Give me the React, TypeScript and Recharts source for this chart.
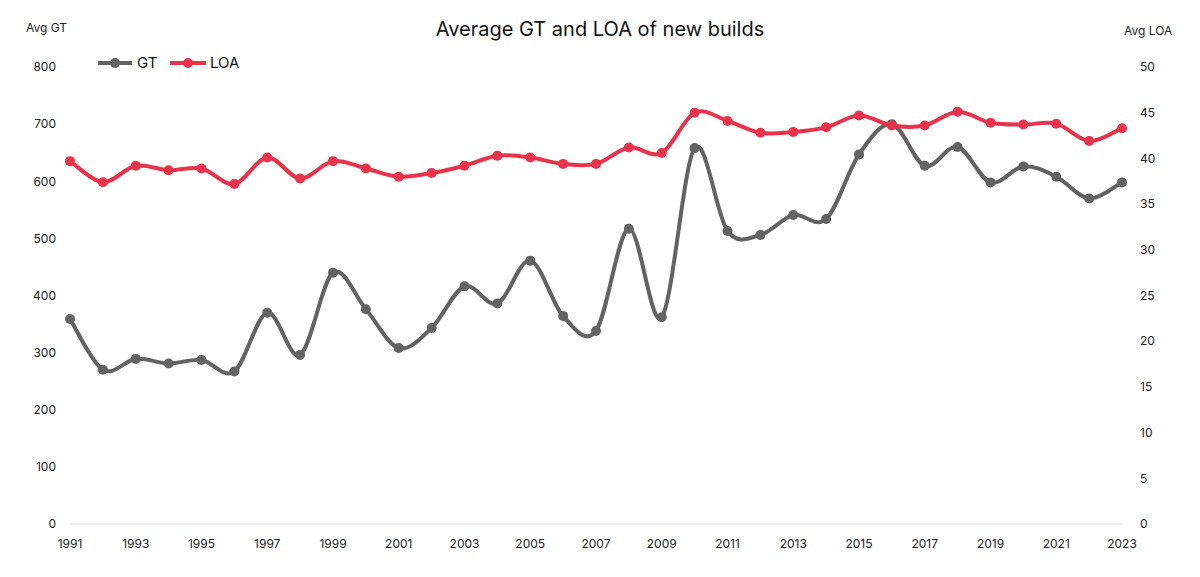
import React from 'react';
import { LineChart, Line, XAxis, YAxis } from 'recharts';

const years = [
  1991, 1992, 1993, 1994, 1995, 1996, 1997, 1998, 1999, 2000, 2001, 2002, 2003, 2004, 2005, 2006, 2007,
  2008, 2009, 2010, 2011, 2012, 2013, 2014, 2015, 2016, 2017, 2018, 2019, 2020, 2021, 2022, 2023,
];
const gtValues = [
  359, 270, 289, 281, 287, 267, 370, 296, 440, 376, 308, 343, 416, 386, 461, 364, 338,
  517, 362, 658, 513, 506, 541, 534, 647, 700, 627, 660, 598, 626, 608, 570, 598,
];
const loaValues = [
  39.7, 37.4, 39.2, 38.7, 38.9, 37.2, 40.1, 37.8, 39.7, 38.9, 38.0, 38.4, 39.2, 40.3, 40.1, 39.4, 39.4,
  41.2, 40.6, 45.0, 44.1, 42.8, 42.9, 43.4, 44.7, 43.6, 43.6, 45.1, 43.9, 43.7, 43.8, 41.9, 43.3,
];
const gtTicks = [0, 100, 200, 300, 400, 500, 600, 700, 800];
const loaTicks = [0, 5, 10, 15, 20, 25, 30, 35, 40, 45, 50];

const data = years.map((y, i) => ({ year: String(y), gt: gtValues[i], loa: loaValues[i] }));

const GRAY = '#636363';
const RED = '#e8334a';
const FONT = 'Inter, "Open Sans", sans-serif';

// Excel-like smoothed line (Catmull-Rom, uniform)
function smoothCurve(context: any) {
  let pts: number[][] = [];
  return {
    areaStart() {},
    areaEnd() {},
    lineStart() {
      pts = [];
    },
    point(x: number, y: number) {
      pts.push([+x, +y]);
    },
    lineEnd() {
      const n = pts.length;
      if (!n) return;
      context.moveTo(pts[0][0], pts[0][1]);
      for (let i = 0; i < n - 1; i++) {
        const p0 = pts[Math.max(i - 1, 0)];
        const p1 = pts[i];
        const p2 = pts[i + 1];
        const p3 = pts[Math.min(i + 2, n - 1)];
        const c1x = p1[0] + (p2[0] - p0[0]) / 6;
        const c1y = p1[1] + (p2[1] - p0[1]) / 6;
        const c2x = p2[0] - (p3[0] - p1[0]) / 6;
        const c2y = p2[1] - (p3[1] - p1[1]) / 6;
        context.bezierCurveTo(c1x, c1y, c2x, c2y, p2[0], p2[1]);
      }
    },
  };
}

const tickStyle = { fontSize: 12, fill: '#222', fontFamily: FONT };

export default function App() {
  return (
    <div style={{ position: 'absolute', left: 0, top: 0, width: 1200, height: 577, background: '#fff', fontFamily: FONT }}>
      <LineChart width={1200} height={577} data={data} margin={{ top: 67, right: 0, bottom: 23, left: 0 }}>
        <XAxis
          dataKey="year"
          interval={1}
          tickLine={false}
          axisLine={{ stroke: '#d9d9d9', strokeWidth: 1 }}
          tick={tickStyle}
          tickSize={6}
          tickMargin={9}
          height={30}
        />
        <YAxis
          yAxisId="left"
          domain={[0, 800]}
          ticks={gtTicks}
          axisLine={false}
          tickLine={false}
          tick={tickStyle}
          tickSize={6}
          tickMargin={8}
          width={70}
        />
        <YAxis
          yAxisId="right"
          orientation="right"
          domain={[0, 50]}
          ticks={loaTicks}
          axisLine={false}
          tickLine={false}
          tick={{ ...tickStyle, textAnchor: 'start' }}
          tickSize={6}
          tickMargin={12}
          width={78}
        />
        <Line
          yAxisId="left"
          dataKey="gt"
          type={smoothCurve as any}
          stroke={GRAY}
          strokeWidth={4}
          dot={{ r: 5, fill: GRAY, stroke: GRAY, strokeWidth: 0 }}
          activeDot={false}
          isAnimationActive={false}
        />
        <Line
          yAxisId="right"
          dataKey="loa"
          type={smoothCurve as any}
          stroke={RED}
          strokeWidth={4}
          dot={{ r: 5, fill: RED, stroke: RED, strokeWidth: 0 }}
          activeDot={false}
          isAnimationActive={false}
        />
      </LineChart>
      <div style={{ position: 'absolute', left: 0, top: 16, width: 1200, textAlign: 'center', fontSize: 20, color: '#111', lineHeight: '26px' }}>
        Average GT and LOA of new builds
      </div>
      <div style={{ position: 'absolute', left: 26, top: 20, fontSize: 12, color: '#222' }}>Avg GT</div>
      <div style={{ position: 'absolute', left: 1124, top: 23, fontSize: 12, color: '#222' }}>Avg LOA</div>
      <svg style={{ position: 'absolute', left: 0, top: 0 }} width={260} height={90}>
        <line x1={98} y1={63} x2={132} y2={63} stroke={GRAY} strokeWidth={4} />
        <circle cx={115} cy={63} r={5} fill={GRAY} />
        <text x={137} y={68} fontSize={15} fill="#111" fontFamily={FONT}>GT</text>
        <line x1={170} y1={63} x2={206} y2={63} stroke={RED} strokeWidth={4} />
        <circle cx={188} cy={63} r={5} fill={RED} />
        <text x={210} y={68} fontSize={15} fill="#111" fontFamily={FONT}>LOA</text>
      </svg>
    </div>
  );
}
